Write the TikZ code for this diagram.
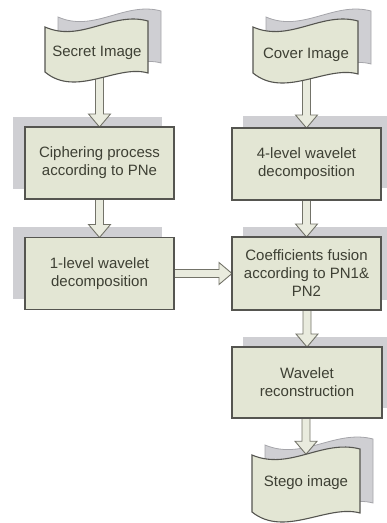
\documentclass[tikz,border=0pt]{standalone}
\usepackage{fontspec}
\setmainfont{Liberation Sans}
\usetikzlibrary{calc}
\pgfdeclarelayer{back}
\pgfdeclarelayer{mid}
\pgfsetlayers{back,mid,main}
\definecolor{frontfill}{RGB}{227,230,212}
\definecolor{frontdraw}{RGB}{85,85,80}
\definecolor{shadowfill}{RGB}{207,207,211}
\definecolor{backflagdraw}{RGB}{165,165,170}
\definecolor{txt}{RGB}{62,64,52}
\definecolor{arrowfill}{RGB}{233,235,222}
\definecolor{arrowdraw}{RGB}{115,115,105}
\tikzset{
  procbox/.style={draw=frontdraw, fill=frontfill, line width=1.1pt, minimum width=149pt, minimum height=72pt,
    inner sep=0pt, outer sep=0pt, align=center, text=txt, font=\fontsize{15}{18}\selectfont},
  flagtext/.style={inner sep=0pt, outer sep=0pt, text=txt, font=\fontsize{15}{18}\selectfont},
  frontflag/.style={draw=frontdraw, fill=frontfill, line width=1.1pt},
  backflag/.style={draw=backflagdraw, fill=shadowfill, line width=0.8pt},
  shadowbox/.style={fill=shadowfill},
  blockarrow/.style={draw=arrowdraw, fill=arrowfill, line width=0.9pt, line join=miter},
}
% flag: style, x0, y0, w, h
\newcommand\flagshape[5]{%
  \path[#1] (#2,#3) .. controls ({#2+0.35*#4},{#3+16}) and ({#2+0.65*#4},{#3-16}) .. ({#2+#4},{#3-6})
    -- ({#2+#4},{#3+#5+1}) .. controls ({#2+0.7*#4},{#3+#5-8}) and ({#2+0.3*#4},{#3+#5+26}) .. (#2,{#3+#5}) -- cycle;}
% vertical block arrow from #1 to #2
\newcommand\varrow[2]{%
  \path[blockarrow] let \p1=(#1), \p2=(#2) in
    (\x2-4pt,\y1) -- (\x2+4pt,\y1) -- (\x2+4pt,\y2+13pt) -- (\x2+11pt,\y2+13pt) -- (\x2,\y2)
    -- (\x2-11pt,\y2+13pt) -- (\x2-4pt,\y2+13pt) -- cycle;}
% horizontal block arrow from #1 to #2
\newcommand\harrow[2]{%
  \path[blockarrow] let \p1=(#1), \p2=(#2) in
    (\x1,\y1-4pt) -- (\x2-13pt,\y1-4pt) -- (\x2-13pt,\y1-11pt) -- (\x2,\y1)
    -- (\x2-13pt,\y1+11pt) -- (\x2-13pt,\y1+4pt) -- (\x1,\y1+4pt) -- cycle;}
\begin{document}
\begin{tikzpicture}[x=1pt,y=-1pt]
\useasboundingbox (0,0) rectangle (387,523);
% front flags
\flagshape{frontflag}{45}{27}{103}{45}
\flagshape{frontflag}{253}{27}{105}{46}
\flagshape{frontflag}{252}{455}{108}{57}
% text nodes
\node[flagtext] (secret) at (97,53) {Secret Image};
\node[flagtext] (cover) at (306,55) {Cover Image};
\node[flagtext, minimum height=57.5pt] (stego) at (306,483) {Stego image};
\node[procbox] (cipher) at (99.5,163) {Ciphering process\\according to PNe};
\node[procbox] (onelevel) at (99.5,273.5) {1-level wavelet\\decomposition};
\node[procbox] (fourlevel) at (306.5,164) {4-level wavelet\\decomposition};
\node[procbox, minimum height=73pt] (fusion) at (306.5,273.5) {Coefficients fusion\\according to PN1\&\\PN2};
\node[procbox, minimum width=150pt, minimum height=71pt] (recon) at (307,382.5) {Wavelet\\reconstruction};
% shadows and back flags
\begin{pgfonlayer}{back}
  \flagshape{backflag}{58}{17}{103}{45}
  \flagshape{backflag}{266}{17}{105}{46}
  \flagshape{backflag}{265}{445}{108}{57}
  \fill[shadowbox] ([shift={(-12,-10)}]cipher.north west) rectangle ([shift={(-12,-10)}]cipher.south east);
  \fill[shadowbox] ([shift={(-12,-11)}]onelevel.north west) rectangle ([shift={(-12,-11)}]onelevel.south east);
  \fill[shadowbox] ([shift={(11,-12)}]fourlevel.north west) rectangle ([shift={(11,-12)}]fourlevel.south east);
  \fill[shadowbox] ([shift={(11,-10)}]fusion.north west) rectangle ([shift={(11,-10)}]fusion.south east);
  \fill[shadowbox] ([shift={(11,-10)}]recon.north west) rectangle ([shift={(11,-10)}]recon.south east);
\end{pgfonlayer}
% arrows
\begin{pgfonlayer}{mid}
  \varrow{secret}{cipher.north}
  \varrow{cipher.south}{onelevel.north}
  \varrow{cover}{fourlevel.north}
  \varrow{fourlevel.south}{fusion.north}
  \varrow{fusion.south}{recon.north}
  \varrow{recon.south}{stego.north}
  \harrow{onelevel.east}{fusion.west}
\end{pgfonlayer}
\end{tikzpicture}
\end{document}
